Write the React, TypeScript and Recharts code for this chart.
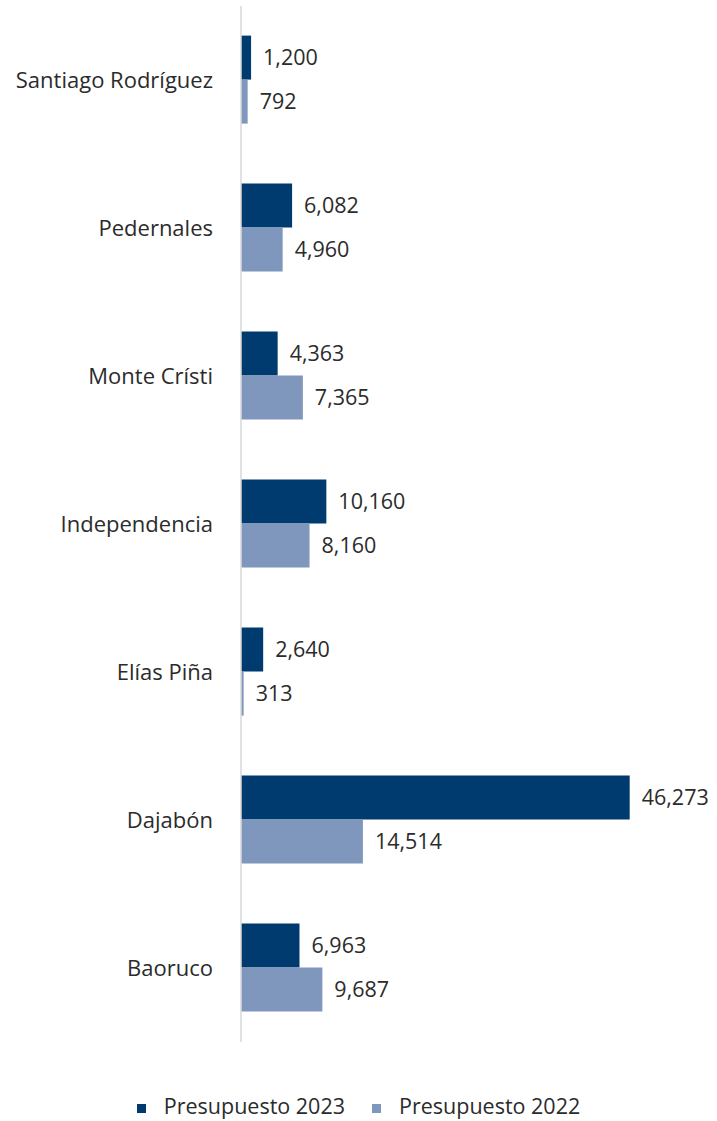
import { BarChart, Bar, XAxis, YAxis, LabelList, Legend } from 'recharts';

const provincias = [
    'Santiago Rodríguez',
    'Pedernales',
    'Monte Crísti',
    'Independencia',
    'Elías Piña',
    'Dajabón',
    'Baoruco',
];
const presupuesto2023 = [1200, 6082, 4363, 10160, 2640, 46273, 6963];
const presupuesto2022 = [792, 4960, 7365, 8160, 313, 14514, 9687];

const series = [
    { key: 'p2023', name: 'Presupuesto 2023', color: '#003b6f' },
    { key: 'p2022', name: 'Presupuesto 2022', color: '#7f97bd' },
];

const data = provincias.map((p, i) => ({
    name: p,
    p2023: presupuesto2023[i],
    p2022: presupuesto2022[i],
}));

const FONT = '"Open Sans", sans-serif';
const fmt = (v: any) => Number(v).toLocaleString('en-US');

function LegendaCustom() {
    return (
        <div
            style={{
                height: 30,
                display: 'flex',
                justifyContent: 'center',
                alignItems: 'center',
                fontFamily: FONT,
                fontSize: 21.5,
                lineHeight: '30px',
                color: '#2b2b2b',
            }}
        >
            {series.map((s, i) => (
                <div key={s.key} style={{ display: 'flex', alignItems: 'center', marginLeft: i ? 27 : 0 }}>
                    <span style={{ width: 9, height: 9, background: s.color, marginRight: 18, marginTop: 4 }} />
                    <span>{s.name}</span>
                </div>
            ))}
        </div>
    );
}

export default function App() {
    return (
        <div style={{ position: 'absolute', left: 0, top: 0 }}>
            <BarChart
                width={717}
                height={1121}
                data={data}
                layout="vertical"
                margin={{ top: 6, right: 56, bottom: 49, left: 0 }}
                barCategoryGap="20%"
                barGap={0}
            >
                <XAxis type="number" domain={[0, 50000]} hide />
                <YAxis
                    type="category"
                    dataKey="name"
                    width={241}
                    tickLine={false}
                    tickSize={0}
                    tickMargin={28}
                    axisLine={{ stroke: '#d9d9d9', strokeWidth: 1.5 }}
                    tick={{ fill: '#2b2b2b', fontSize: 22, fontFamily: FONT }}
                />
                <Legend
                    verticalAlign="bottom"
                    wrapperStyle={{ bottom: 0, left: 0, width: 717 }}
                    content={<LegendaCustom />}
                />
                {series.map((s) => (
                    <Bar key={s.key} dataKey={s.key} name={s.name} fill={s.color} isAnimationActive={false}>
                        <LabelList
                            dataKey={s.key}
                            position="right"
                            offset={12}
                            formatter={fmt}
                            style={{ fill: '#2b2b2b', fontSize: 21.5, fontFamily: FONT }}
                        />
                    </Bar>
                ))}
            </BarChart>
        </div>
    );
}
